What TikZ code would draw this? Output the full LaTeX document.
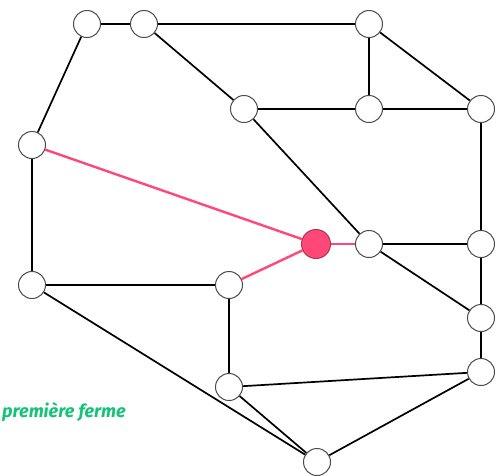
\documentclass[tikz,border=0pt]{standalone}
\usepackage{fontspec}
\setmainfont{Fira Sans}
\definecolor{rose}{RGB}{255,72,120}
\definecolor{vert}{RGB}{20,195,120}

\begin{document}
\begin{tikzpicture}[x=1pt,y=-1pt,
    sommet/.style={circle,draw=black!70,fill=white,line width=1pt,minimum size=27pt,inner sep=0pt},
    ferme/.style={sommet,minimum size=29pt,fill=rose,draw=rose!70!black},
    arete/.style={line width=1.7pt},
    chemin/.style={line width=2.4pt,draw=rose}]
      \useasboundingbox (0,0) rectangle (504,475);
      \draw
        (87,24) node[sommet] (0){}
        (144,24) node[sommet] (1){}
        (369,24) node[sommet] (2){}
        (244,109) node[sommet] (3){}
        (369,109) node[sommet] (4){}
        (481,109) node[sommet] (5){}
        (32,145) node[sommet] (6){}
        (316,244) node[ferme] (7){}
        (369,244) node[sommet] (8){}
        (481,244) node[sommet] (9){}
        (32,285) node[sommet] (10){}
        (229,285) node[sommet] (11){}
        (481,318) node[sommet] (12){}
        (229,387) node[sommet] (13){}
        (481,372) node[sommet] (14){}
        (317,462) node[sommet] (15){};
      \begin{scope}[arete]
        \draw (0) -- (1);
        \draw (1) -- (2);
        \draw (2) -- (5);
        \draw (2) -- (4);
        \draw (4) -- (5);
        \draw (3) -- (4);
        \draw (1) -- (3);
        \draw (0) -- (6);
        \draw (6) -- (10);
        \draw (3) -- (8);
        \draw (8) -- (9);
        \draw (5) -- (9);
        \draw (8) -- (12);
        \draw (9) -- (12);
        \draw (10) -- (11);
        \draw (11) -- (13);
        \draw (10) -- (15);
        \draw (13) -- (15);
        \draw (13) -- (14);
        \draw (14) -- (15);
        \draw (12) -- (14);
      \end{scope}
      \begin{scope}[chemin]
        \draw (6) -- (7);
        \draw (7) -- (8);
        \draw (11) -- (7);
      \end{scope}
      \node[anchor=west,text=vert,font=\fontsize{18}{21}\selectfont\bfseries\itshape,inner sep=0pt] (lbl) at (2,412) {première ferme};
    \end{tikzpicture}
\end{document}
